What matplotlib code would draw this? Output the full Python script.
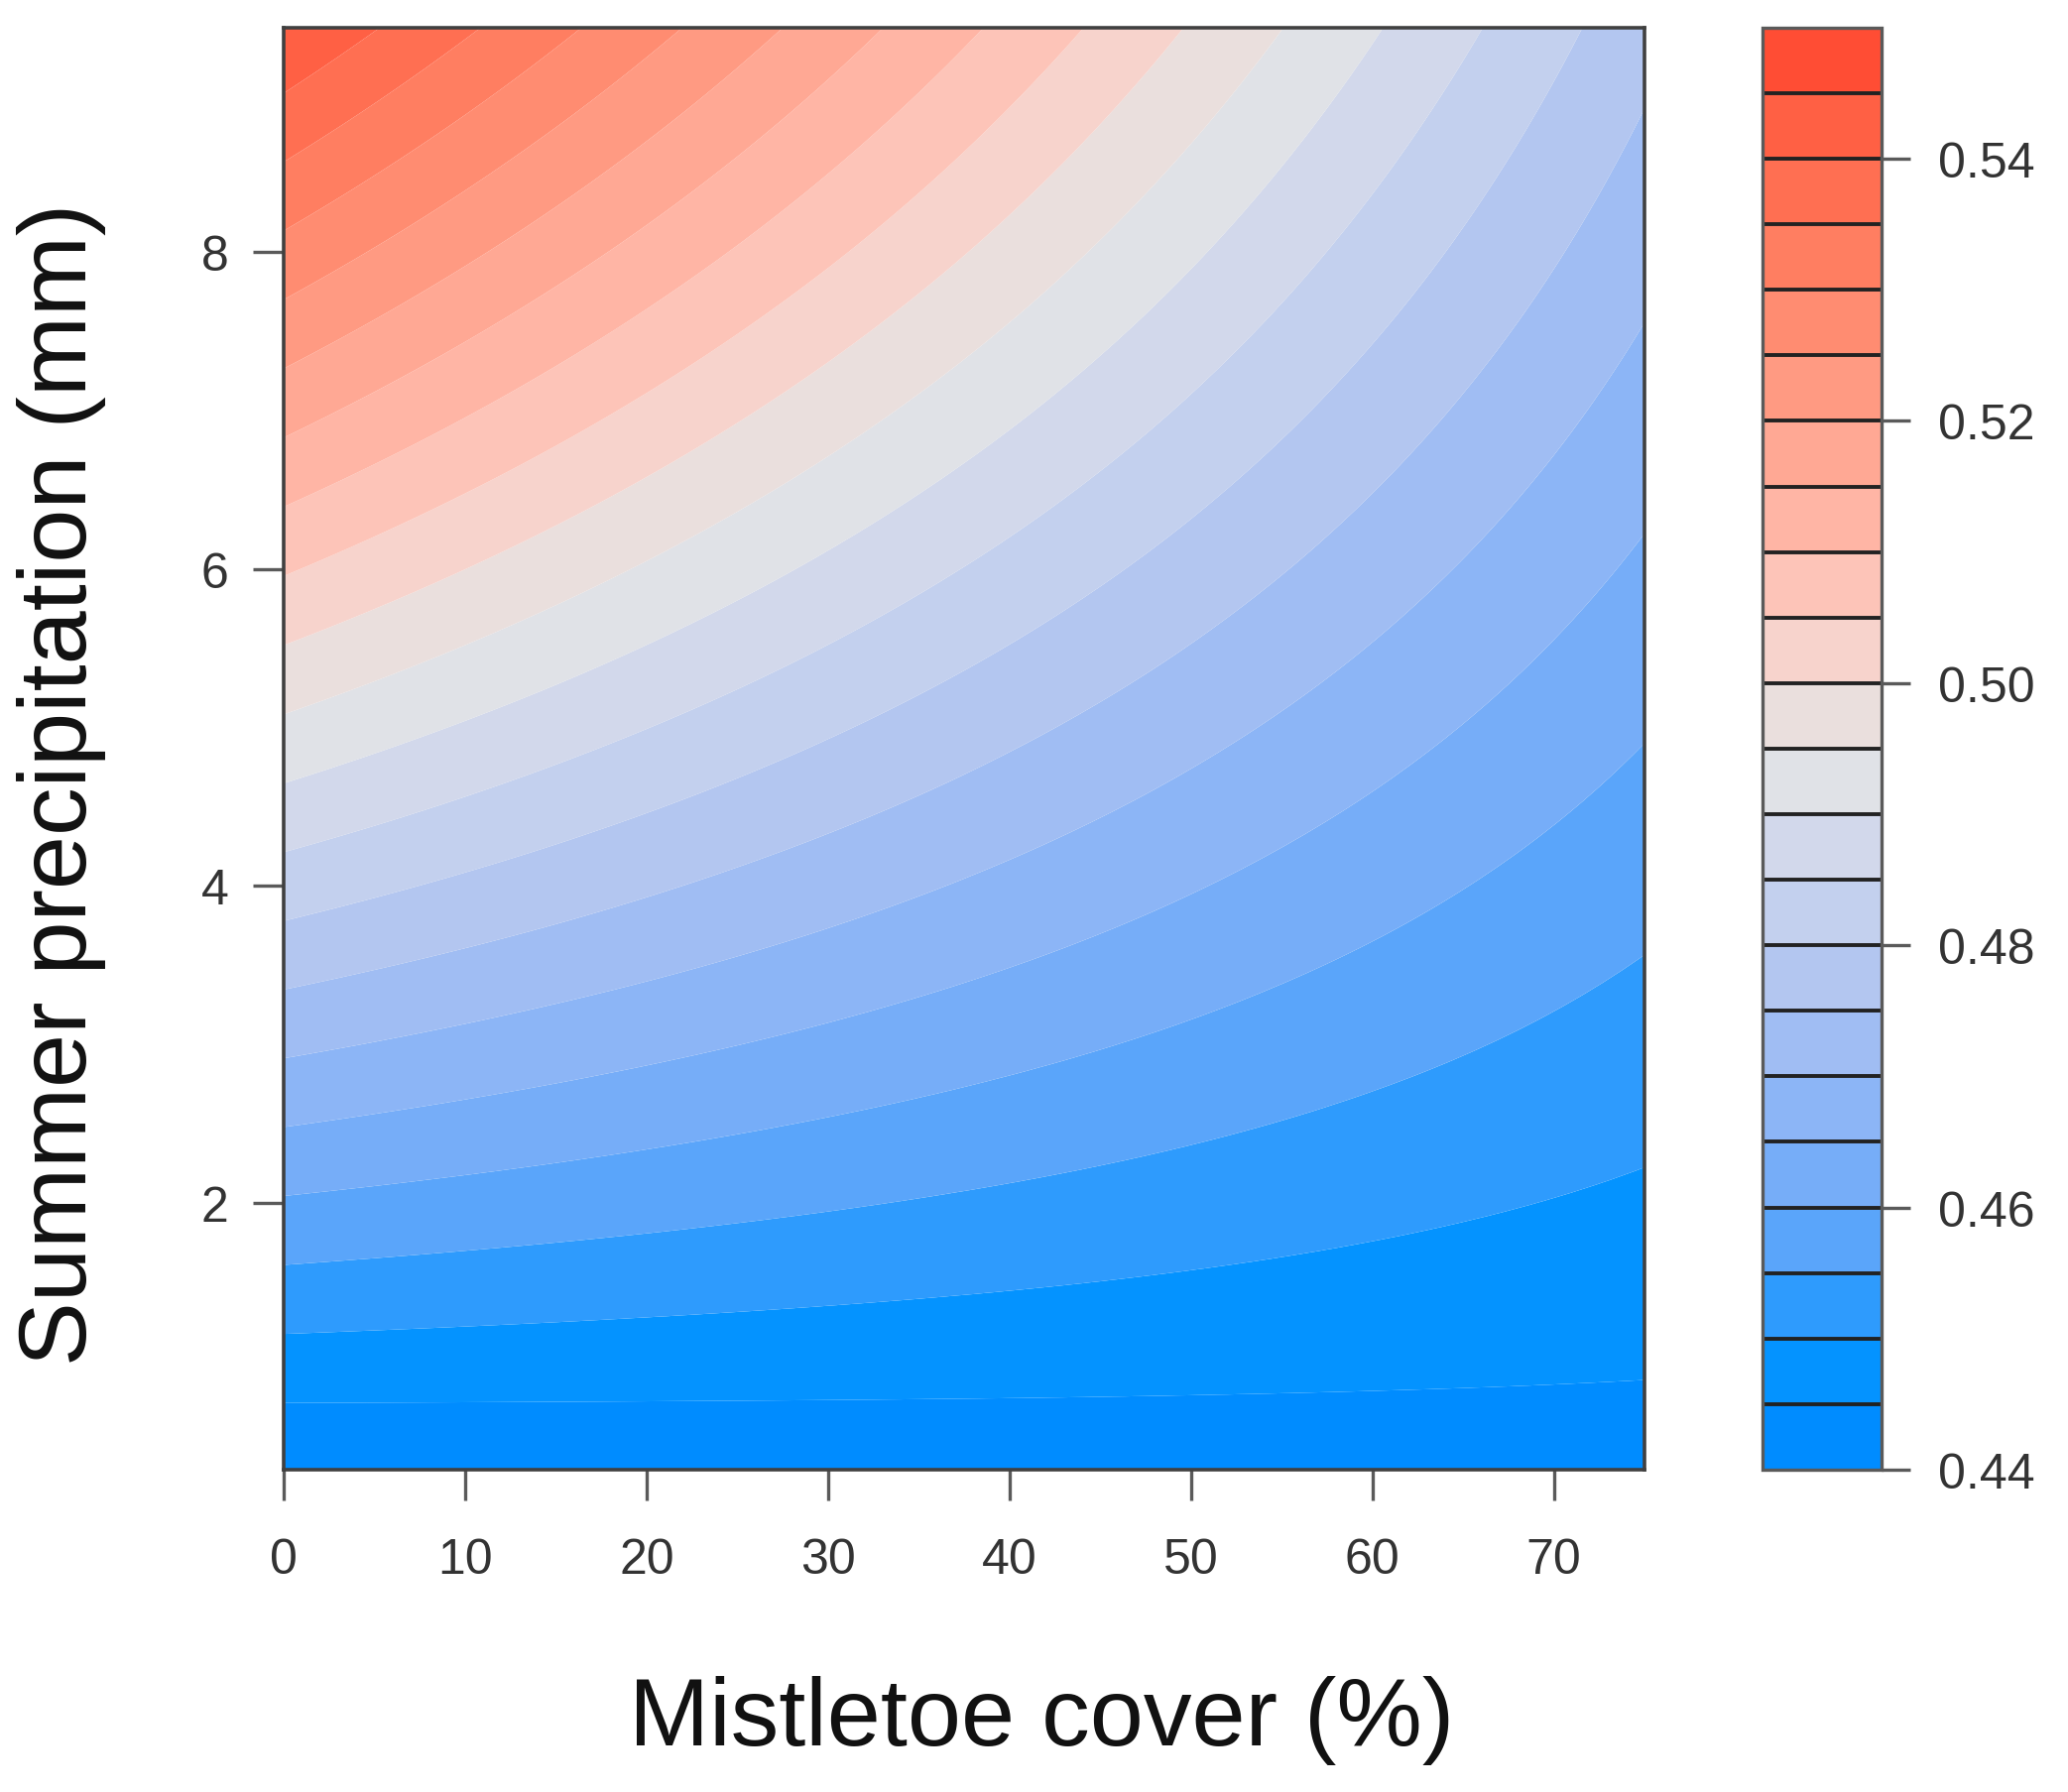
import numpy as np
import matplotlib
matplotlib.use("Agg")
import matplotlib.pyplot as plt
import matplotlib.tri as mtri

plt.rcParams['font.family'] = ['Liberation Sans', 'DejaVu Sans']

cover = [0, 37.5, 75]                  # mistletoe cover (%)
precip = [0.32, 2.6, 4.9, 7.1, 9.42]   # summer precipitation (mm)
# rows = precip, columns = cover
z_rows = [
    [0.4402, 0.4416, 0.4429],
    [0.4664, 0.4590, 0.4514],
    [0.4929, 0.4765, 0.4600],
    [0.5181, 0.4933, 0.4683],
    [0.5448, 0.5110, 0.4769],
]

levels = np.linspace(0.44, 0.55, 23)
band_colors = [
    "#008CFF", "#0493FF", "#2E9BFD", "#5AA5FA", "#76ADF8", "#8CB5F6",
    "#A0BDF3", "#B3C6F0", "#C3D0EE", "#D2D8EB", "#E0E2E7", "#EADFDD",
    "#F7D3CC", "#FDC4B8", "#FFB5A5", "#FFA894", "#FF9A82", "#FF8C71",
    "#FF7E61", "#FF6F52", "#FF6044", "#FF4D34",
]
cbar_ticks = [0.44, 0.46, 0.48, 0.50, 0.52, 0.54]
x_ticks = [0, 10, 20, 30, 40, 50, 60, 70]
y_ticks = [2, 4, 6, 8]

fig = plt.figure(figsize=(20.85, 18.08), dpi=100)
ax = fig.add_axes([0.1372, 0.1798, 0.6580, 0.8042])
cax = fig.add_axes([0.8523, 0.1798, 0.0576, 0.8042])

X, Y = np.meshgrid(cover, precip)
tri = mtri.Triangulation(X.ravel(), Y.ravel())
refiner = mtri.UniformTriRefiner(tri)
tri_f, z_f = refiner.refine_field(np.array(z_rows).ravel(), subdiv=5)
cs = ax.tricontourf(tri_f, z_f, levels=levels, colors=band_colors, antialiased=True)

ax.set_xlim(0, 75)
ax.set_ylim(0.317, 9.416)
ax.set_xticks(x_ticks)
ax.set_yticks(y_ticks)
ax.tick_params(axis='both', length=22, width=2.4, color='#5a5a5a',
               labelsize=36, labelcolor='#333333')
ax.tick_params(axis='x', pad=27)
ax.tick_params(axis='y', pad=18)
for s in ax.spines.values():
    s.set_linewidth(2.6)
    s.set_color('#404040')

cb = fig.colorbar(cs, cax=cax, drawedges=True, ticks=cbar_ticks)
cb.ax.set_yticklabels(["%.2f" % t for t in cbar_ticks])
cb.dividers.set_color('#222222')
cb.dividers.set_linewidth(2.8)
cb.outline.set_edgecolor('#5a5a5a')
cb.outline.set_linewidth(2.4)
cb.ax.tick_params(length=21, width=2.4, color='#5a5a5a', labelsize=36,
                  labelcolor='#333333', pad=20)

fig.text(1050 / 2085, 1 - 1735 / 1808, "Mistletoe cover (%)", fontsize=70,
         ha='center', va='center', color='#111111')
fig.text(62 / 2085, 1 - 791 / 1808, "Summer precipitation (mm)", fontsize=70,
         rotation=90, ha='center', va='center', color='#111111')

fig.savefig("out.png", dpi=100)
